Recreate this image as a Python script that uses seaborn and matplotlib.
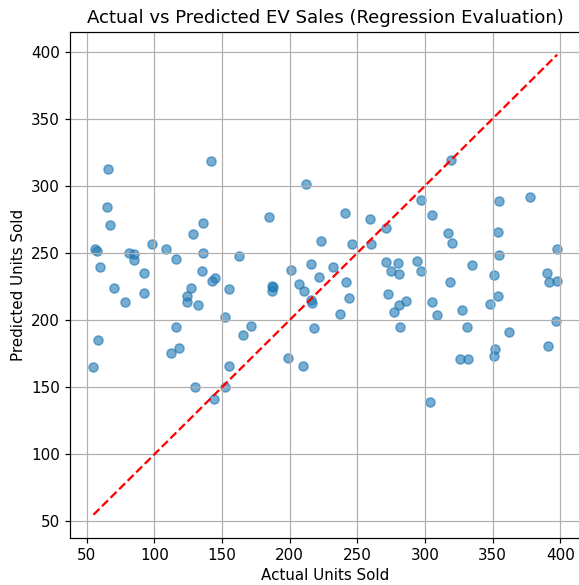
import numpy as np
import pandas as pd
import matplotlib
matplotlib.use("Agg")
import matplotlib.pyplot as plt
import seaborn as sns

# values
actual = [
    66.0, 64.8, 67.0, 56.2, 57.4, 60.1, 70.2, 78.1, 58.2, 55.0,
    81.6, 85.2, 85.2, 92.2, 92.2, 98.1, 108.9, 115.8, 128.8, 136.0,
    136.0, 135.0, 142.9, 145.1, 127.1, 124.2, 123.9, 132.3, 115.8, 112.1,
    118.3, 129.9, 143.9, 141.9,
    211.8, 184.7, 240.9, 222.9, 245.8, 162.8, 201.0, 216.0, 231.8, 221.9,
    241.8, 243.8, 155.0, 187.0, 188.0, 187.0, 206.9, 210.6, 216.0, 216.7,
    237.0, 218.0, 152.0, 171.7, 165.8, 155.0, 199.0, 209.9, 152.0,
    319.2, 296.8, 304.9, 259.1, 271.2, 260.1, 316.7, 320.0, 354.9, 377.8,
    353.9, 354.9, 397.7, 271.0, 279.8, 274.9, 281.0, 293.8, 297.0, 334.9,
    350.7, 318.7, 272.9, 286.0, 281.0, 276.9, 304.9, 308.9, 327.1, 353.9,
    348.0, 389.9, 391.8, 397.7, 396.7, 281.8, 330.8, 362.0, 390.8, 351.7,
    350.7, 325.8, 332.0, 303.7,
]
predicted = [
    312.4, 284.4, 271.0, 252.6, 251.6, 239.5, 223.8, 213.2, 184.9, 165.1,
    249.7, 249.2, 244.4, 235.2, 220.3, 256.4, 252.6, 245.4, 264.0, 272.2,
    249.7, 236.8, 229.3, 231.1, 223.6, 217.9, 213.4, 211.3, 194.9, 175.6,
    178.9, 150.0, 141.1, 318.4,
    301.0, 276.7, 279.4, 258.6, 256.8, 247.4, 237.4, 241.9, 239.7, 231.8,
    228.1, 216.4, 223.1, 225.6, 224.3, 221.5, 226.8, 221.6, 214.9, 212.4,
    204.4, 193.8, 202.1, 195.6, 189.1, 165.8, 171.7, 166.0, 150.0,
    319.1, 289.3, 278.1, 275.0, 268.3, 256.6, 264.8, 257.3, 288.4, 291.4,
    265.5, 248.3, 253.3, 243.5, 242.2, 236.8, 234.3, 244.1, 236.8, 241.1,
    233.3, 228.4, 219.1, 214.4, 211.0, 206.2, 213.2, 204.0, 207.7, 218.1,
    211.9, 235.2, 228.5, 229.0, 199.5, 195.0, 194.8, 191.1, 180.8, 178.3,
    173.1, 170.7, 170.7, 139.2,
]

df = pd.DataFrame({"actual": actual, "predicted": predicted})

# reference looks rendered ~9% larger than a plain 100 dpi figure
k = 1.09
plt.rcParams.update({
    "font.size": 10 * k,
    "xtick.major.size": 3.5 * k,
    "ytick.major.size": 3.5 * k,
    "xtick.major.width": 0.8 * k,
    "ytick.major.width": 0.8 * k,
    "axes.linewidth": 0.8 * k,
    "grid.linewidth": 0.8 * k,
})

fig = plt.figure(figsize=(5.79, 5.85), dpi=100)
ax = fig.add_axes([70.3 / 579, 1 - 537.7 / 585, (580.3 - 70.3) / 579, (537.7 - 31.7) / 585])

sns.scatterplot(data=df, x="actual", y="predicted", ax=ax, alpha=0.6,
                s=36 * k * k, color="#1f77b4", edgecolor="#1f77b4", linewidth=k)

# perfect prediction line
lo, hi = df["actual"].min(), df["actual"].max()
ax.plot([lo, hi], [lo, hi], "r--", linewidth=1.5 * k)

ax.set_title("Actual vs Predicted EV Sales (Regression Evaluation)", fontsize=12 * k, pad=6 * k)
ax.set_xlabel("Actual Units Sold")
ax.set_ylabel("Predicted Units Sold")
ax.grid(True)

fig.savefig("out.png", dpi=100)
